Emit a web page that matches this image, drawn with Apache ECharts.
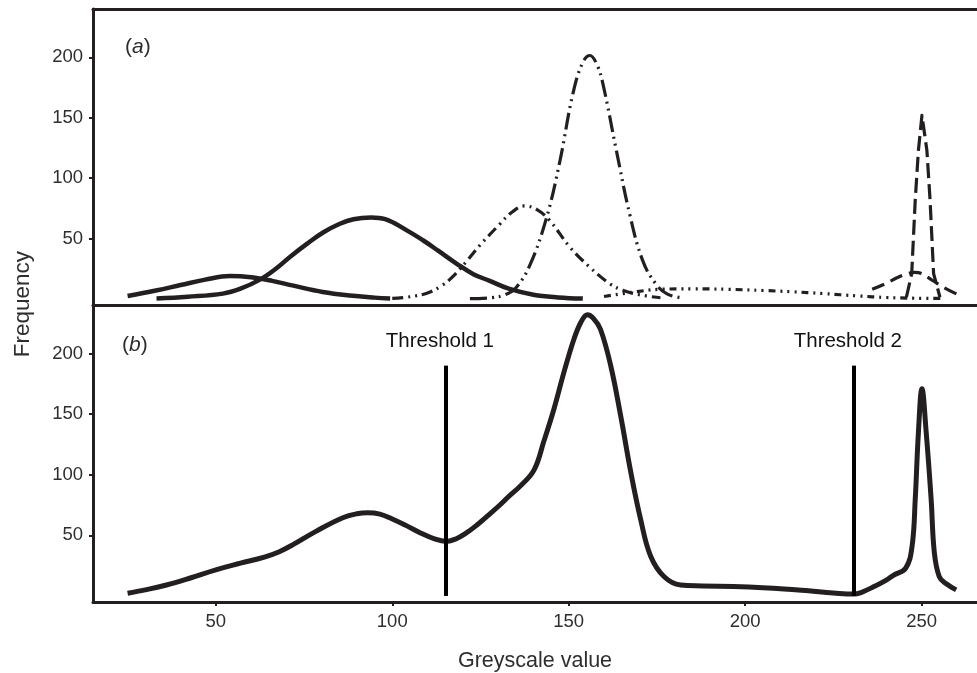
<!DOCTYPE html>
<html>
<head>
<meta charset="utf-8">
<title>Greyscale histograms</title>
<script src="https://cdn.jsdelivr.net/npm/echarts@6/dist/echarts.min.js"></script>
<style>
  html, body { margin: 0; padding: 0; background: #ffffff; }
  #chart { width: 977px; height: 673px; }
</style>
</head>
<body>
<div id="chart"></div>
<script>
// ---- data: fitted components (panel a) and combined histogram (panel b) ----
const xTicks = [50, 100, 150, 200, 250];
const yTicks = [50, 100, 150, 200];

// panel (a) components, [greyscale, frequency]
const compSmall = [[25,2.5],[33,7],[40,11.5],[47,16],[54,19],[60,18],[66,15],[72,11],[80.3,5.8],[88,2.8],[95,1.1],[99.4,0.4]];
const compMain = [[33.2,0.3],[42,1.8],[52,4.4],[57,8.5],[62.5,16],[67,25],[71,34.8],[76,46],[80.4,55],[85,62],[89,66],[94,67.4],[98,66],[104,57],[108.7,48.6],[113,40],[118.2,29.3],[123,20.5],[127.6,15],[133,8.5],[140,3.5],[147,1.3],[154,0.3]];
const compMid = [[100,0.5],[105,1.8],[110,5],[114,11],[117,18],[121,31],[125,45],[130.5,62],[134,72],[137.5,77],[141,74],[144.6,65],[150.3,43],[155.9,26.5],[161.6,12.7],[165.3,7.2],[170,3.5],[176,1]];
const compTall = [[122,0.3],[128,1],[132,3.5],[135,9],[139,28],[143.7,67],[147.5,114],[151.2,170],[154,196],[156,201.5],[158,194],[159.7,178],[163.5,123],[167.3,70],[171,31.5],[174.8,12],[178,4],[182,1]];
const compFlat = [[160,2],[168,5.5],[176,8],[185,8.4],[195,8],[205,7],[213,6],[222,4.5],[232,2.5],[240,1.2],[248,0.6],[256,0.4]];
const compBright = [[236,8],[240,13],[243,17.5],[246,21],[248,22],[250,21],[253,15.5],[256,10],[260,4]];
const compSpike = [[245.7,1.5],[247.2,21],[248.2,82],[249.1,123],[250.1,152],[251.5,123],[252.4,82],[253.4,21],[255.2,1.5]];

// panel (b) combined histogram
const histogram = [[25,2.2],[30,5],[36,9],[43,15],[50,21.5],[57,27],[64,32.3],[68,36.5],[72,42.5],[78.5,53.5],[86,64.5],[90,67.8],[93,68.6],[96.5,67.5],[100,63.5],[104,58],[108,52],[112,47],[115.4,45],[118,47],[121,52],[124,58.5],[127,66],[130.5,75],[133,82],[136.4,91],[140.2,104],[143,128],[145.8,154],[148.7,185],[151.5,212],[153.5,226],[155.3,232],[157,229],[159,220],[161.9,190],[164.7,149],[167.6,102],[170.4,63],[173.2,33],[177,16],[181.7,9],[188,8.3],[196.7,7.7],[205,6.8],[211,5.8],[218,4.2],[225,2.5],[230.8,1.5],[233,3],[236.5,7.7],[240,13],[242,17],[245.5,23],[247.3,41],[248.2,80],[249.1,135],[250.1,171],[251.3,135],[252.7,80],[253.6,36],[255,16],[257,10],[259.8,5]];

const thresholds = [115.2, 230.8];
const thresholdTop = 190;
const thresholdNames = ['Threshold 1', 'Threshold 2'];

// ---- styling ----
const INK = '#231f20';
const TEXT = '#2e2e2e';
const FONT = '"Liberation Sans", Arial, Helvetica, sans-serif';
const X_MIN = 15.2, X_MAX = 265.7;
const Y_MIN = -5, Y_MAX = 240;

function xAxisFor(gridIndex, position, withLabels) {
  return {
    type: 'value', gridIndex, position, min: X_MIN, max: X_MAX,
    splitLine: { show: false },
    axisLine: { show: true, onZero: false, lineStyle: { color: INK, width: 3 } },
    axisTick: withLabels ? { show: true, length: 4, lineStyle: { color: INK, width: 2 }, customValues: xTicks } : { show: false },
    axisLabel: withLabels ? { show: true, margin: 10, color: TEXT, fontSize: 18.5, fontFamily: FONT, customValues: xTicks } : { show: false }
  };
}
function yAxisFor(gridIndex) {
  return {
    type: 'value', gridIndex, min: Y_MIN, max: Y_MAX,
    splitLine: { show: false },
    axisLine: { show: true, onZero: false, lineStyle: { color: INK, width: 3 } },
    axisTick: { show: true, length: 4, lineStyle: { color: INK, width: 2 }, customValues: yTicks },
    axisLabel: { show: true, margin: 10, color: TEXT, fontSize: 18.5, fontFamily: FONT, customValues: yTicks }
  };
}
function curve(data, width, dash, smooth) {
  return {
    type: 'line', xAxisIndex: 0, yAxisIndex: 0, data, symbol: 'none',
    smooth: smooth, z: 3,
    lineStyle: { color: INK, width, type: dash, cap: 'butt', join: 'round' }
  };
}

const thresholdLines = thresholds.map((t, i) => [
  { coord: [t, 0], symbol: 'none' },
  { coord: [t, thresholdTop], symbol: 'none', label: { formatter: thresholdNames[i] } }
]);

const chart = echarts.init(document.getElementById('chart'), null, { renderer: 'canvas' });
chart.setOption({
  animation: false,
  backgroundColor: '#ffffff',
  grid: [
    { left: 93, right: 0, top: 9, height: 296, containLabel: false },
    { left: 93, right: 0, top: 305, height: 298, containLabel: false }
  ],
  xAxis: [
    xAxisFor(0, 'bottom', false),
    xAxisFor(0, 'top', false),
    Object.assign(xAxisFor(1, 'bottom', true), {
      name: 'Greyscale value', nameLocation: 'middle', nameGap: 48,
      nameTextStyle: { color: TEXT, fontSize: 21.5, fontFamily: FONT }
    })
  ],
  yAxis: [yAxisFor(0), yAxisFor(1)],
  graphic: [
    {
      type: 'text', left: 11, top: 251, rotation: Math.PI / 2,
      style: { text: 'Frequency', fill: TEXT, font: '22.5px ' + FONT }
    },
    {
      type: 'text', left: 125, top: 37,
      style: {
        text: '{p|(}{i|a}{p|)}',
        rich: {
          p: { fontSize: 21, fontFamily: FONT, fill: TEXT },
          i: { fontSize: 21, fontFamily: FONT, fontStyle: 'italic', fill: TEXT }
        }
      }
    },
    {
      type: 'text', left: 122, top: 335,
      style: {
        text: '{p|(}{i|b}{p|)}',
        rich: {
          p: { fontSize: 21, fontFamily: FONT, fill: TEXT },
          i: { fontSize: 21, fontFamily: FONT, fontStyle: 'italic', fill: TEXT }
        }
      }
    }
  ],
  series: [
    curve(compSmall, 4.5, 'solid', 0.4),
    curve(compMain, 4.5, 'solid', 0.4),
    curve(compMid, 3.2, [11, 5, 2, 5, 2, 5], 0.4),
    curve(compTall, 3.2, [17, 5, 2, 5, 2, 5], 0.4),
    curve(compFlat, 3.2, [7, 5, 2, 5, 2, 5, 2, 5], 0.4),
    curve(compBright, 3.2, [13, 7], 0.4),
    curve(compSpike, 3.2, [15, 6], false),
    {
      type: 'line', xAxisIndex: 2, yAxisIndex: 1, data: histogram, symbol: 'none',
      smooth: 0.4, z: 3,
      lineStyle: { color: INK, width: 5, join: 'round' },
      markLine: {
        silent: true, symbol: ['none', 'none'], animation: false,
        lineStyle: { color: '#000000', width: 4, type: 'solid' },
        label: { show: true, position: 'end', distance: 14, offset: [-6, 0], color: '#111111', fontSize: 20.5, fontFamily: FONT },
        emphasis: { disabled: true },
        data: thresholdLines
      }
    }
  ]
});
</script>
</body>
</html>
